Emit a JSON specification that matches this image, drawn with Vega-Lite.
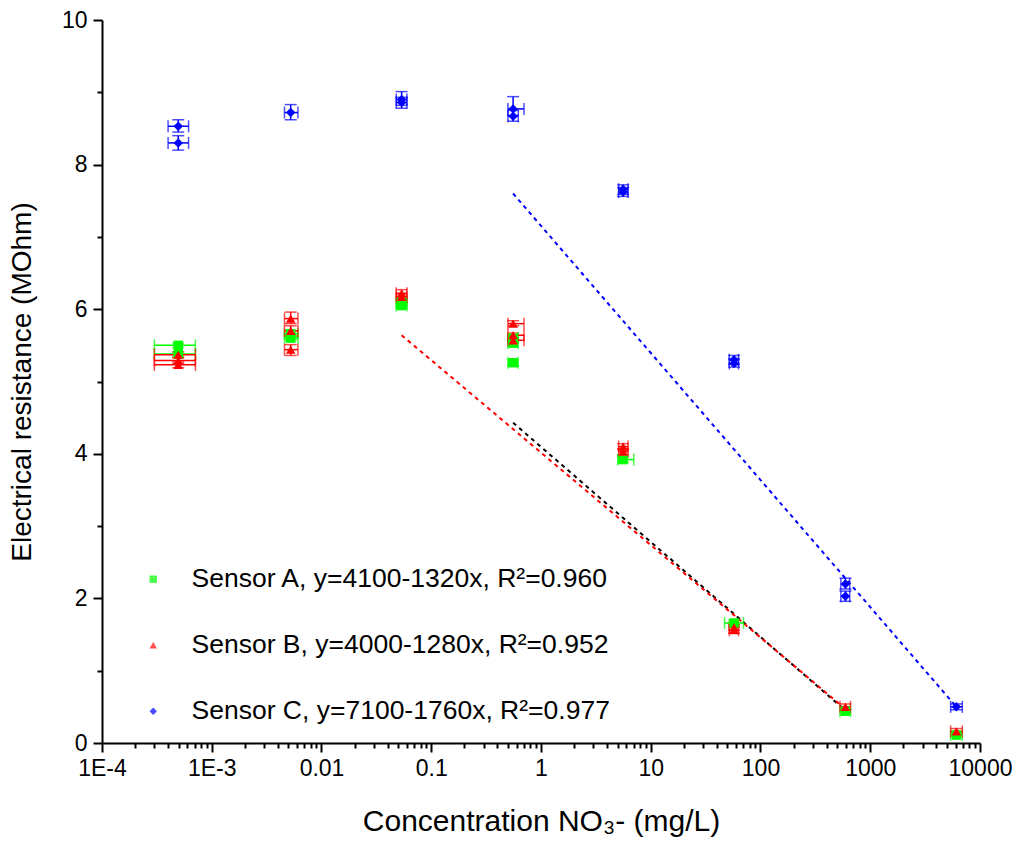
{
  "$schema": "https://vega.github.io/schema/vega-lite/v6.json",
  "width": 878,
  "height": 723,
  "autosize": "none",
  "padding": {"left": 102, "top": 20, "right": 44, "bottom": 110},
  "background": "white",
  "datasets": {
    "pts": [
      {"s": "A", "c": 0.000495, "r": 5.50, "rlo": 5.47, "rhi": 5.53, "clo": 0.0003, "chi": 0.00071},
      {"s": "A", "c": 0.000495, "r": 5.38, "rlo": 5.35, "rhi": 5.41, "clo": 0.0003, "chi": 0.00071},
      {"s": "A", "c": 0.00524, "r": 5.66, "rlo": 5.62, "rhi": 5.70, "clo": 0.0046, "chi": 0.0061},
      {"s": "A", "c": 0.00524, "r": 5.60, "rlo": 5.57, "rhi": 5.63, "clo": 0.0046, "chi": 0.0061},
      {"s": "A", "c": 0.0537, "r": 6.10, "rlo": 6.05, "rhi": 6.14, "clo": 0.048, "chi": 0.060},
      {"s": "A", "c": 0.0537, "r": 6.05, "rlo": 6.01, "rhi": 6.09, "clo": 0.048, "chi": 0.060},
      {"s": "A", "c": 0.557, "r": 5.60, "rlo": 5.56, "rhi": 5.64, "clo": 0.50, "chi": 0.62},
      {"s": "A", "c": 0.557, "r": 5.53, "rlo": 5.49, "rhi": 5.57, "clo": 0.50, "chi": 0.62},
      {"s": "A", "c": 0.557, "r": 5.26, "rlo": 5.22, "rhi": 5.30, "clo": 0.50, "chi": 0.62},
      {"s": "A", "c": 5.6, "r": 3.92, "rlo": 3.88, "rhi": 3.96, "clo": 5.0, "chi": 7.0},
      {"s": "A", "c": 57.4, "r": 1.66, "rlo": 1.62, "rhi": 1.70, "clo": 47, "chi": 70},
      {"s": "A", "c": 594, "r": 0.44, "rlo": 0.40, "rhi": 0.48, "clo": 530, "chi": 660},
      {"s": "A", "c": 6095, "r": 0.11, "rlo": 0.08, "rhi": 0.14, "clo": 5400, "chi": 6900},
      {"s": "B", "c": 0.000495, "r": 5.37, "rlo": 5.33, "rhi": 5.41, "clo": 0.0003, "chi": 0.00071},
      {"s": "B", "c": 0.000495, "r": 5.29, "rlo": 5.25, "rhi": 5.33, "clo": 0.0003, "chi": 0.00071},
      {"s": "B", "c": 0.000495, "r": 5.23, "rlo": 5.19, "rhi": 5.27, "clo": 0.0003, "chi": 0.00071},
      {"s": "B", "c": 0.00524, "r": 5.87, "rlo": 5.80, "rhi": 5.96, "clo": 0.0046, "chi": 0.0061},
      {"s": "B", "c": 0.00524, "r": 5.70, "rlo": 5.63, "rhi": 5.77, "clo": 0.0046, "chi": 0.0061},
      {"s": "B", "c": 0.00524, "r": 5.44, "rlo": 5.36, "rhi": 5.51, "clo": 0.0046, "chi": 0.0061},
      {"s": "B", "c": 0.0537, "r": 6.22, "rlo": 6.18, "rhi": 6.27, "clo": 0.048, "chi": 0.060},
      {"s": "B", "c": 0.0537, "r": 6.17, "rlo": 6.13, "rhi": 6.21, "clo": 0.048, "chi": 0.060},
      {"s": "B", "c": 0.557, "r": 5.80, "rlo": 5.77, "rhi": 5.84, "clo": 0.50, "chi": 0.70},
      {"s": "B", "c": 0.557, "r": 5.64, "rlo": 5.61, "rhi": 5.67, "clo": 0.50, "chi": 0.70},
      {"s": "B", "c": 0.557, "r": 5.57, "rlo": 5.54, "rhi": 5.60, "clo": 0.50, "chi": 0.70},
      {"s": "B", "c": 5.6, "r": 4.10, "rlo": 4.06, "rhi": 4.14, "clo": 5.1, "chi": 6.2},
      {"s": "B", "c": 5.6, "r": 4.03, "rlo": 3.99, "rhi": 4.07, "clo": 5.1, "chi": 6.2},
      {"s": "B", "c": 57.4, "r": 1.60, "rlo": 1.56, "rhi": 1.64, "clo": 52, "chi": 63},
      {"s": "B", "c": 57.4, "r": 1.56, "rlo": 1.52, "rhi": 1.60, "clo": 52, "chi": 63},
      {"s": "B", "c": 594, "r": 0.50, "rlo": 0.46, "rhi": 0.54, "clo": 530, "chi": 660},
      {"s": "B", "c": 6095, "r": 0.16, "rlo": 0.12, "rhi": 0.20, "clo": 5400, "chi": 6900},
      {"s": "C", "c": 0.000495, "r": 8.53, "rlo": 8.45, "rhi": 8.62, "clo": 0.0004, "chi": 0.000615},
      {"s": "C", "c": 0.000495, "r": 8.30, "rlo": 8.20, "rhi": 8.40, "clo": 0.0004, "chi": 0.000615},
      {"s": "C", "c": 0.00524, "r": 8.72, "rlo": 8.62, "rhi": 8.83, "clo": 0.0046, "chi": 0.0061},
      {"s": "C", "c": 0.0537, "r": 8.90, "rlo": 8.82, "rhi": 9.01, "clo": 0.048, "chi": 0.060},
      {"s": "C", "c": 0.0537, "r": 8.86, "rlo": 8.78, "rhi": 8.93, "clo": 0.048, "chi": 0.060},
      {"s": "C", "c": 0.557, "r": 8.77, "rlo": 8.68, "rhi": 8.94, "clo": 0.50, "chi": 0.70},
      {"s": "C", "c": 0.557, "r": 8.67, "rlo": 8.60, "rhi": 8.75, "clo": 0.50, "chi": 0.62},
      {"s": "C", "c": 5.6, "r": 7.66, "rlo": 7.59, "rhi": 7.72, "clo": 5.1, "chi": 6.2},
      {"s": "C", "c": 5.6, "r": 7.62, "rlo": 7.56, "rhi": 7.68, "clo": 5.1, "chi": 6.2},
      {"s": "C", "c": 57.4, "r": 5.30, "rlo": 5.24, "rhi": 5.36, "clo": 52, "chi": 63},
      {"s": "C", "c": 57.4, "r": 5.25, "rlo": 5.20, "rhi": 5.31, "clo": 52, "chi": 63},
      {"s": "C", "c": 594, "r": 2.20, "rlo": 2.13, "rhi": 2.28, "clo": 540, "chi": 650},
      {"s": "C", "c": 594, "r": 2.03, "rlo": 1.96, "rhi": 2.10, "clo": 540, "chi": 650},
      {"s": "C", "c": 6095, "r": 0.50, "rlo": 0.46, "rhi": 0.54, "clo": 5400, "chi": 6900}
    ],
    "fits": [
      {"s": "A", "c": 0.557, "r": 4.43},
      {"s": "A", "c": 594, "r": 0.45},
      {"s": "B", "c": 0.0537, "r": 5.64},
      {"s": "B", "c": 594, "r": 0.47},
      {"s": "C", "c": 0.557, "r": 7.6},
      {"s": "C", "c": 6095, "r": 0.5}
    ]
  },
  "layer": [
    {
      "data": {"name": "fits"},
      "transform": [{"filter": "datum.s == 'A'"}],
      "mark": {"type": "line", "strokeWidth": 2, "strokeDash": [4, 4], "color": "#000000"},
      "encoding": {
        "x": {"field": "c", "type": "quantitative", "title": "Concentration NO₃- (mg/L)"},
        "y": {"field": "r", "type": "quantitative", "title": "Electrical resistance (MOhm)"}
      }
    },
    {
      "data": {"name": "fits"},
      "transform": [{"filter": "datum.s == 'B'"}],
      "mark": {"type": "line", "strokeWidth": 2, "strokeDash": [4, 4], "color": "#ff0000"},
      "encoding": {
        "x": {"field": "c", "type": "quantitative", "title": "Concentration NO₃- (mg/L)"},
        "y": {"field": "r", "type": "quantitative", "title": "Electrical resistance (MOhm)"}
      }
    },
    {
      "data": {"name": "fits"},
      "transform": [{"filter": "datum.s == 'C'"}],
      "mark": {"type": "line", "strokeWidth": 2, "strokeDash": [4, 4], "color": "#0000ff"},
      "encoding": {
        "x": {"field": "c", "type": "quantitative", "title": "Concentration NO₃- (mg/L)"},
        "y": {"field": "r", "type": "quantitative", "title": "Electrical resistance (MOhm)"}
      }
    },
    {
      "data": {"name": "pts"},
      "mark": {"type": "errorbar", "ticks": {"size": 12}, "thickness": 1.5},
      "encoding": {
        "x": {"field": "c", "type": "quantitative", "title": "Concentration NO₃- (mg/L)"},
        "y": {"field": "rlo", "type": "quantitative", "title": "Electrical resistance (MOhm)"},
        "y2": {"field": "rhi"},
        "color": {"field": "s", "type": "nominal"}
      }
    },
    {
      "data": {"name": "pts"},
      "mark": {"type": "errorbar", "ticks": {"size": 12}, "thickness": 1.5},
      "encoding": {
        "x": {"field": "clo", "type": "quantitative", "title": "Concentration NO₃- (mg/L)"},
        "x2": {"field": "chi"},
        "y": {"field": "r", "type": "quantitative", "title": "Electrical resistance (MOhm)"},
        "color": {"field": "s", "type": "nominal"}
      }
    },
    {
      "data": {"name": "pts"},
      "mark": {"type": "point", "filled": true, "opacity": 1, "size": 90},
      "encoding": {
        "x": {
          "field": "c",
          "type": "quantitative",
          "title": "Concentration NO₃- (mg/L)",
          "scale": {"type": "log", "domain": [0.0001, 10000], "nice": false},
          "axis": {
            "values": [0.0001, 0.0002, 0.0003, 0.0004, 0.0005, 0.0006, 0.0007, 0.0008, 0.0009,
              0.001, 0.002, 0.003, 0.004, 0.005, 0.006, 0.007, 0.008, 0.009,
              0.01, 0.02, 0.03, 0.04, 0.05, 0.06, 0.07, 0.08, 0.09,
              0.1, 0.2, 0.3, 0.4, 0.5, 0.6, 0.7, 0.8, 0.9,
              1, 2, 3, 4, 5, 6, 7, 8, 9,
              10, 20, 30, 40, 50, 60, 70, 80, 90,
              100, 200, 300, 400, 500, 600, 700, 800, 900,
              1000, 2000, 3000, 4000, 5000, 6000, 7000, 8000, 9000, 10000],
            "labelExpr": "datum.value == 0.0001 ? '1E-4' : datum.value == 0.001 ? '1E-3' : (datum.value == 0.01 || datum.value == 0.1 || datum.value == 1 || datum.value == 10 || datum.value == 100 || datum.value == 1000 || datum.value == 10000) ? format(datum.value, '') : ''",
            "tickSize": {"condition": {"test": "datum.value == 0.0001 || datum.value == 0.001 || datum.value == 0.01 || datum.value == 0.1 || datum.value == 1 || datum.value == 10 || datum.value == 100 || datum.value == 1000 || datum.value == 10000", "value": 9}, "value": 5},
            "labelFlush": false,
            "labelOverlap": false,
            "labelPadding": 5,
            "titlePadding": 26,
            "titleFontSize": 30
          }
        },
        "y": {
          "field": "r",
          "type": "quantitative",
          "title": "Electrical resistance (MOhm)",
          "scale": {"domain": [0, 10], "nice": false},
          "axis": {
            "values": [0, 1, 2, 3, 4, 5, 6, 7, 8, 9, 10],
            "format": "d",
            "labelExpr": "datum.value % 2 == 0 ? datum.label : ''",
            "tickSize": {"condition": {"test": "datum.value % 2 == 0", "value": 9}, "value": 5},
            "labelFlush": false,
            "labelPadding": 6,
            "titlePadding": 25,
            "titleFontSize": 28
          }
        },
        "color": {
          "field": "s",
          "type": "nominal",
          "scale": {"domain": ["A", "B", "C"], "range": ["#00ff00", "#ff0000", "#0000ff"]},
          "legend": {
            "title": null,
            "orient": "none",
            "legendX": 38,
            "legendY": 546,
            "padding": 0,
            "labelExpr": "datum.value == 'A' ? 'Sensor A, y=4100-1320x, R²=0.960' : datum.value == 'B' ? 'Sensor B, y=4000-1280x, R²=0.952' : 'Sensor C, y=7100-1760x, R²=0.977'",
            "labelFontSize": 26.5,
            "labelFont": "Liberation Sans",
            "labelColor": "black",
            "labelLimit": 0,
            "labelOffset": 25,
            "rowPadding": 39,
            "symbolSize": 55,
            "symbolOpacity": 1,
            "symbolStrokeWidth": 0
          }
        },
        "shape": {
          "field": "s",
          "type": "nominal",
          "scale": {"domain": ["A", "B", "C"], "range": ["square", "triangle-up", "diamond"]},
          "legend": {
            "title": null,
            "orient": "none",
            "legendX": 38,
            "legendY": 546,
            "padding": 0,
            "labelExpr": "datum.value == 'A' ? 'Sensor A, y=4100-1320x, R²=0.960' : datum.value == 'B' ? 'Sensor B, y=4000-1280x, R²=0.952' : 'Sensor C, y=7100-1760x, R²=0.977'",
            "labelFontSize": 26.5,
            "labelFont": "Liberation Sans",
            "labelColor": "black",
            "labelLimit": 0,
            "labelOffset": 25,
            "rowPadding": 39,
            "symbolSize": 55,
            "symbolOpacity": 1,
            "symbolStrokeWidth": 0
          }
        }
      }
    }
  ],
  "config": {
    "view": {"stroke": null},
    "font": "Liberation Sans",
    "axis": {
      "grid": false,
      "domainColor": "black",
      "domainWidth": 2,
      "tickColor": "black",
      "tickWidth": 2,
      "labelFontSize": 23,
      "labelColor": "black",
      "labelFont": "Liberation Sans",
      "titleFont": "Liberation Sans",
      "titleFontSize": 28,
      "titleFontWeight": "normal",
      "titleColor": "black"
    }
  }
}
